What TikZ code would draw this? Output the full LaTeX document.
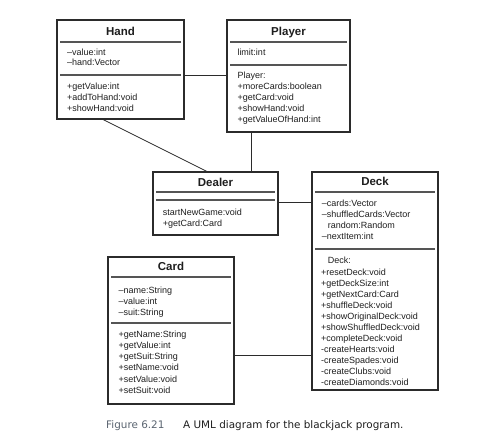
\documentclass[tikz,border=0pt]{standalone}
\usepackage{fontspec}
\setmainfont{Liberation Sans}
\newfontfamily\capfont{DejaVu Sans}
\definecolor{ink}{HTML}{1E1E1E}
\definecolor{edgec}{HTML}{2B2B2B}
\definecolor{rulec}{HTML}{555555}
\definecolor{figc}{HTML}{5A6470}
\begin{document}
\begin{tikzpicture}[x=1pt,y=-1pt,
  box/.style={draw=edgec, line width=1.1pt, inner sep=0pt, rectangle},
  ttl/.style={font=\bfseries\fontsize{11.5}{12}\selectfont, text=ink, inner sep=0pt, text height=8.3pt, text depth=0pt},
  txt/.style={font=\fontsize{9}{11}\selectfont, text=ink, inner sep=0pt, anchor=west, text height=6.4pt, text depth=0pt},
  sep/.style={draw=rulec, line width=1.3pt, shorten <=4pt, shorten >=4pt},
  link/.style={draw=edgec, line width=0.8pt}]
\useasboundingbox (0,0) rectangle (495,447);

% boxes
\node[box, minimum width=127pt, minimum height=99pt] (hand) at (120.5,69.5) {};
\node[box, minimum width=123pt, minimum height=112pt] (player) at (288.5,76) {};
\node[box, minimum width=125pt, minimum height=63pt] (dealer) at (215.5,203.5) {};
\node[box, minimum width=126pt, minimum height=218pt] (deck) at (375,281) {};
\node[box, minimum width=126pt, minimum height=147pt] (card) at (171,330.5) {};

% titles
\node[ttl] (handt) at (120.5,31) {Hand};
\node[ttl] (playert) at (288.5,31) {Player};
\node[ttl] (dealert) at (215.5,182.5) {Dealer};
\node[ttl] (deckt) at (375,181.7) {Deck};
\node[ttl] (cardt) at (171,266.7) {Card};

% separators
\draw[sep] (hand.west |- 0,42) -- (hand.east |- 0,42);
\draw[sep] (hand.west |- 0,75) -- (hand.east |- 0,75);
\draw[sep] (player.west |- 0,42) -- (player.east |- 0,42);
\draw[sep] (player.west |- 0,65) -- (player.east |- 0,65);
\draw[sep] (dealer.west |- 0,192) -- (dealer.east |- 0,192);
\draw[sep] (dealer.west |- 0,200) -- (dealer.east |- 0,200);
\draw[sep] (deck.west |- 0,192) -- (deck.east |- 0,192);
\draw[sep] (deck.west |- 0,249) -- (deck.east |- 0,249);
\draw[sep] (card.west |- 0,277) -- (card.east |- 0,277);
\draw[sep] (card.west |- 0,323) -- (card.east |- 0,323);

% Hand
\foreach \t [count=\i] in {–value:int, –hand:Vector}
  \node[txt] (ha\i) at (67,42.7+10*\i) {\t};
\foreach \t [count=\i] in {+getValue:int, +addToHand:void, +showHand:void}
  \node[txt] (hm\i) at (67,75.7+11*\i) {\t};

% Player
\node[txt] (pa1) at (237.3,52.7) {limit:int};
\foreach \t [count=\i] in {Player:, +moreCards:boolean, +getCard:void, +showHand:void, +getValueOfHand:int}
  \node[txt] (pm\i) at (237.3,64.5+11*\i) {\t};

% Dealer
\node[txt] (dm1) at (162.7,211.8) {startNewGame:void};
\node[txt] (dm2) at (162.7,223.2) {+getCard:Card};

% Deck
\node[txt] (ka1) at (321.7,203.3) {–cards:Vector};
\node[txt] (ka2) at (321.7,214.3) {–shuffledCards:Vector};
\node[txt] (ka3) at (327.7,225.5) {random:Random};
\node[txt] (ka4) at (321.7,236.6) {–nextItem:int};
\node[txt] (km0) at (327.7,260) {Deck:};
\foreach \t [count=\i] in {+resetDeck:void, +getDeckSize:int, +getNextCard:Card, +shuffleDeck:void, +showOriginalDeck:void, +showShuffledDeck:void, +completeDeck:void, -createHearts:void, -createSpades:void, -createClubs:void, -createDiamonds:void}
  \node[txt] (km\i) at (321,261.26+11.04*\i) {\t};

% Card
\foreach \t [count=\i] in {–name:String, –value:int, –suit:String}
  \node[txt] (ca\i) at (118.3,279+11*\i) {\t};
\foreach \t [count=\i] in {+getName:String, +getValue:int, +getSuit:String, +setName:void, +setValue:void, +setSuit:void}
  \node[txt] (cm\i) at (118.3,322.8+11.2*\i) {\t};

% connectors
\draw[link] (hand.east |- 0,75) -- (player.west |- 0,75);
\draw[link] (hand.south -| 103,0) -- (dealer.north -| 207,0);
\draw[link] (player.south -| 251,0) -- (dealer.north -| 251,0);
\draw[link] (dealer.east |- 0,202) -- (deck.west |- 0,202);
\draw[link] (card.east |- 0,355) -- (deck.west |- 0,355);

% caption
\node[font=\capfont\fontsize{10.4}{12}\selectfont, text=figc, anchor=west, inner sep=0pt] (fig) at (106,426) {Figure 6.21};
\node[font=\capfont\fontsize{10.4}{12}\selectfont, text=ink, anchor=west, inner sep=0pt] (capt) at (183,426) {A UML diagram for the blackjack program.};
\end{tikzpicture}
\end{document}
